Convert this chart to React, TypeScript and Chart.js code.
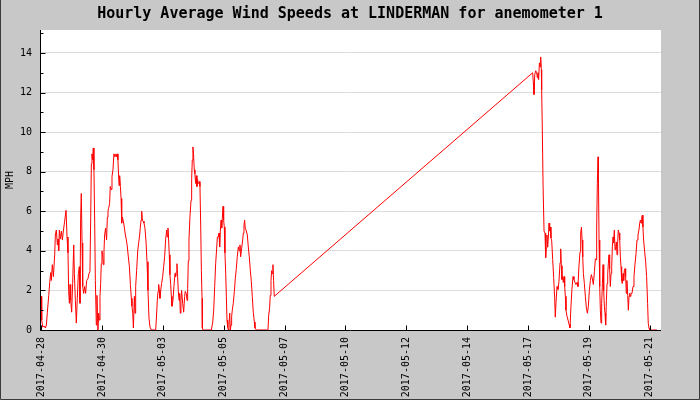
import React, { useEffect, useRef } from "react";
import { Chart, registerables } from "chart.js";

Chart.register(...registerables);

const chartTitle = "Hourly Average Wind Speeds at LINDERMAN for anemometer 1";
const yAxisTitle = "MPH";

const xTickLabels = [
  "2017-04-28", "2017-04-30", "2017-05-03", "2017-05-05", "2017-05-07", "2017-05-10",
  "2017-05-12", "2017-05-14", "2017-05-17", "2017-05-19", "2017-05-21",
];
// hours since the first reading at which each date tick sits
const xTickHours = [0, 56.3, 112.6, 168.9, 225.2, 281.5, 337.8, 394.1, 450.4, 506.7, 563.0];

const yMajorTicks = [0, 2, 4, 6, 8, 10, 12, 14];
const yMinorTicks = [1, 3, 5, 7, 9, 11, 13, 15];

// [hours since first reading, wind speed in MPH]
const readings: [number, number][] = [
  [0.3, 1.7], [0.6, 0.5], [1.5, 0.15], [2.7, 0.2], [4.0, 0.1], [4.9, 0.25], [5.8, 0.9],
  [7.1, 1.75], [8.0, 2.4], [8.9, 2.9], [9.5, 2.5], [10.4, 3.3], [11.4, 2.7], [12.6, 3.8],
  [13.2, 4.8], [14.1, 5.05], [15.1, 4.3], [15.7, 4.6], [16.3, 4.0], [16.9, 5.05], [17.8, 4.6],
  [18.8, 5.0], [19.7, 4.55], [20.6, 5.0], [21.8, 5.5], [23.1, 6.05], [24.0, 4.7], [24.9, 3.9],
  [25.5, 2.0], [26.2, 1.35], [26.8, 2.3], [27.4, 1.5], [28.3, 0.9], [29.2, 2.35], [30.2, 4.3],
  [30.8, 2.85], [31.7, 1.5], [32.6, 0.35], [33.5, 1.6], [34.5, 2.85], [35.4, 3.2], [36.0, 1.35],
  [36.6, 5.65], [37.2, 6.9], [37.9, 4.4], [38.5, 2.2], [39.4, 1.85], [40.3, 2.2], [41.2, 1.85],
  [42.2, 2.5], [43.4, 2.6], [44.3, 2.85], [45.2, 2.95], [45.9, 5.7], [46.5, 8.4], [47.1, 8.9],
  [47.7, 8.6], [48.3, 9.2], [48.9, 8.1], [49.6, 5.4], [50.2, 2.5], [51.1, 0.25], [51.7, 1.75],
  [52.6, 0], [53.3, 0.85], [53.9, 0.5], [54.5, 1.7], [55.1, 2.35], [55.7, 3.35], [56.3, 4.0],
  [57.0, 3.8], [57.6, 3.3], [58.2, 4.0], [58.8, 4.8], [59.7, 5.15], [60.6, 4.55], [61.3, 5.7],
  [61.9, 6.0], [62.5, 6.15], [63.4, 6.4], [64.0, 7.25], [64.7, 7.1], [65.6, 7.75], [66.5, 8.1],
  [67.4, 8.9], [68.3, 8.75], [69.3, 8.9], [69.9, 8.75], [70.5, 8.9], [71.1, 8.6],
  [72.1, 7.3], [72.7, 7.8], [73.4, 7.25], [74.0, 6.65], [74.6, 5.4], [75.2, 5.7], [76.1, 5.5],
  [77.1, 5.15], [78.0, 4.8], [78.9, 4.55], [79.8, 4.2], [80.7, 3.7], [81.7, 3.2], [82.6, 2.3],
  [83.5, 1.6], [84.1, 1.2], [84.8, 0.85], [85.4, 0.1], [86.3, 1.7], [86.9, 0.85], [87.5, 2.2],
  [88.4, 3.0], [89.4, 4.0], [90.3, 4.4], [91.2, 4.8], [91.8, 5.2], [92.5, 5.55], [93.1, 6.0],
  [93.7, 5.55], [94.3, 5.5], [95.2, 5.4], [96.1, 5.15], [97.1, 4.45], [98.0, 3.45], [98.9, 2.0],
  [99.8, 0.6], [100.8, 0.15], [102.0, 0], [106.0, 0], [106.6, 0.5], [107.5, 1.5], [108.2, 1.95],
  [108.8, 2.3], [109.4, 2.0], [110.0, 1.6], [110.6, 1.95], [111.5, 2.35], [112.5, 2.7], [113.4, 3.2],
  [114.3, 3.7], [115.2, 4.55], [116.2, 5.05], [116.8, 4.7], [117.4, 5.15], [118.0, 4.55], [118.6, 3.8],
  [119.2, 2.8], [119.9, 2.3], [120.5, 1.7], [121.1, 1.2], [122.0, 1.5], [122.9, 2.2], [123.9, 2.85],
  [124.5, 2.7], [125.1, 2.95], [125.7, 3.35], [126.3, 2.7], [126.9, 2.0], [127.6, 1.5], [128.2, 1.85],
  [128.8, 0.85], [129.4, 1.5], [130.0, 2.0], [131.0, 1.35], [131.9, 0.9], [132.8, 1.7], [133.4, 1.95],
  [134.3, 1.85], [135.0, 1.5], [135.6, 2.1], [136.2, 3.5], [136.8, 4.55], [137.7, 5.7], [138.7, 6.55],
  [139.3, 7.65], [139.9, 8.6], [140.5, 9.25], [141.1, 8.85], [141.7, 8.1], [142.3, 7.9], [143.0, 7.4],
  [143.6, 7.8], [144.2, 7.25], [144.8, 7.6], [145.4, 7.4], [146.4, 7.5],
  [147.0, 7.25], [147.7, 5.15], [148.3, 3.0], [148.9, 1.6], [149.2, 0.1], [149.8, 0], [157.5, 0],
  [158.8, 0.4], [159.7, 1.0], [160.6, 2.2], [161.5, 3.35], [162.4, 4.1], [163.1, 4.7], [164.0, 4.7],
  [164.6, 4.9], [165.2, 4.2], [165.8, 5.0], [166.5, 5.55], [167.1, 5.15], [167.7, 5.65], [168.3, 6.25],
  [168.9, 5.55], [169.5, 5.2], [170.1, 3.9], [170.8, 2.85], [171.4, 1.7], [172.0, 0.5], [172.6, 0.15],
  [173.2, 0], [173.8, 0.25], [174.5, 0.85], [175.1, 0], [175.7, 0.25], [176.3, 0.7], [176.9, 1.0],
  [177.8, 1.35], [178.8, 1.95], [179.7, 2.6], [180.6, 3.1], [181.5, 3.7], [182.5, 4.2], [183.4, 4.0],
  [184.0, 4.3], [184.6, 3.7], [185.5, 4.1], [186.5, 4.55], [187.1, 4.9], [187.7, 5.3], [188.3, 5.55],
  [188.9, 5.15], [189.9, 5.0], [190.8, 4.8], [191.7, 4.2], [192.6, 3.7], [193.6, 3.0], [194.5, 2.45],
  [195.4, 1.7], [196.3, 0.9], [197.3, 0.4], [197.9, 0.1], [199.1, 0], [209.9, 0], [210.5, 0.7],
  [211.4, 1.1], [212.0, 1.75], [212.7, 2.5], [213.3, 3.0], [213.9, 2.85], [214.5, 3.3], [215.1, 2.5],
  [215.7, 1.7],
  [454.8, 13.0], [455.4, 12.5], [456.0, 11.9], [456.7, 12.9], [457.6, 13.1], [458.5, 13.0],
  [459.1, 12.75], [459.7, 13.0], [460.3, 12.65], [461.0, 13.5], [461.6, 13.3], [462.2, 13.8],
  [462.8, 13.15], [463.1, 12.15], [463.7, 10.1], [464.4, 7.3], [465.3, 5.0], [466.2, 4.9],
  [466.8, 3.65], [467.4, 4.15], [468.0, 4.8], [468.7, 4.2], [469.3, 4.7], [469.9, 5.4], [470.5, 5.0],
  [471.1, 5.2], [471.7, 4.65], [472.4, 4.5], [473.3, 3.55], [474.2, 2.65], [475.1, 1.65], [475.7, 0.65],
  [476.4, 1.4], [477.3, 2.2], [478.2, 2.05], [479.1, 2.45], [480.1, 3.4], [480.7, 4.1], [481.3, 3.25],
  [481.9, 2.55], [482.5, 2.7], [483.1, 2.4], [483.8, 2.7], [484.4, 2.2], [485.0, 1.7], [485.6, 1.0],
  [486.5, 0.7], [487.5, 0.5], [488.4, 0.3], [489.3, 0.1], [490.2, 1.2], [491.1, 2.05], [492.1, 2.7],
  [493.0, 2.55], [493.9, 2.4], [494.8, 2.3], [495.8, 2.4], [496.7, 2.2], [497.6, 3.25],
  [498.6, 3.95], [499.2, 4.9], [499.9, 5.2], [500.5, 4.55], [501.1, 3.7], [501.7, 2.85], [502.6, 2.35],
  [503.5, 1.7], [504.5, 1.1], [505.4, 0.85], [506.3, 1.2], [507.2, 2.0], [508.2, 2.5], [509.1, 2.8],
  [510.0, 2.6], [510.9, 2.3], [511.9, 2.95], [512.8, 3.6], [513.4, 3.55], [514.0, 5.2], [514.6, 7.4],
  [515.3, 8.75], [515.6, 7.9], [516.2, 4.55], [516.8, 2.2], [517.4, 1.0], [518.0, 0.35], [518.6, 1.35],
  [519.3, 2.35], [519.9, 3.3], [520.5, 2.0], [521.1, 1.2], [521.7, 0.85], [522.3, 0.25], [523.0, 1.5],
  [523.6, 2.35], [524.2, 2.85], [524.8, 3.35], [525.4, 3.8], [526.0, 3.1], [526.6, 2.2], [527.3, 2.85],
  [527.9, 3.2], [528.5, 4.2], [529.1, 4.7], [529.7, 4.4], [530.3, 5.05], [531.0, 4.05], [531.6, 4.2],
  [532.2, 4.45], [532.8, 3.8], [533.4, 4.4], [534.0, 5.05], [534.7, 4.9], [535.3, 4.55], [535.9, 3.7],
  [536.5, 3.2], [537.1, 2.5], [537.7, 2.35], [538.4, 2.85], [539.0, 2.5], [539.6, 3.0], [540.2, 3.1],
  [540.8, 2.7], [541.4, 1.85], [542.0, 2.5], [542.7, 1.75], [543.3, 1.0], [543.9, 1.7], [544.5, 1.85],
  [545.1, 1.7], [545.7, 1.85], [546.7, 1.85], [547.6, 2.2], [548.5, 2.7], [549.4, 3.3], [550.4, 3.85],
  [551.3, 4.55], [552.2, 4.8], [553.1, 5.05], [553.8, 5.4], [554.4, 5.55], [555.0, 5.4], [555.6, 5.65],
  [556.2, 5.8], [556.8, 5.2], [557.4, 4.55], [558.4, 3.95], [559.3, 3.45], [560.2, 2.7], [561.1, 1.35],
  [561.7, 0.35], [562.4, 0.1], [563.0, 0], [569.8, 0],
];

const FONT = "'DejaVu Sans Mono', monospace";

const framePlugin = {
  id: "jpFrame",
  beforeDraw(chart: any) {
    const { ctx, width, height, chartArea: a } = chart;
    ctx.save();
    ctx.fillStyle = "#c8c8c8";
    ctx.fillRect(0, 0, width, height);
    ctx.fillStyle = "#ffffff";
    ctx.fillRect(a.left, a.top, a.right - a.left, a.bottom - a.top);
    ctx.strokeStyle = "#3a3a3a";
    ctx.lineWidth = 1;
    ctx.beginPath();
    ctx.moveTo(0.5, 0);
    ctx.lineTo(0.5, height - 0.5);
    ctx.lineTo(width - 0.5, height - 0.5);
    ctx.lineTo(width - 0.5, 0);
    ctx.stroke();
    ctx.fillStyle = "#000000";
    ctx.font = `bold 15px ${FONT}`;
    ctx.textAlign = "center";
    ctx.textBaseline = "alphabetic";
    ctx.fillText(chartTitle, width / 2, 17.5);
    ctx.restore();
  },
  afterDatasetsDraw(chart: any) {
    const { ctx, chartArea: a, scales } = chart;
    const xs = scales.x;
    const ys = scales.y;
    const L = Math.round(a.left) + 0.5;
    const B = Math.round(a.bottom) + 0.5;
    ctx.save();
    ctx.strokeStyle = "#000000";
    ctx.lineWidth = 1;
    ctx.beginPath();
    ctx.moveTo(L, a.top);
    ctx.lineTo(L, B);
    ctx.lineTo(a.right, B);
    yMajorTicks.forEach((v) => {
      const py = Math.round(ys.getPixelForValue(v)) + 0.5;
      ctx.moveTo(L, py);
      ctx.lineTo(L + 5, py);
    });
    yMinorTicks.forEach((v) => {
      const py = Math.round(ys.getPixelForValue(v)) + 0.5;
      ctx.moveTo(L, py);
      ctx.lineTo(L + 3, py);
    });
    xTickHours.forEach((h) => {
      const px = Math.round(xs.getPixelForValue(h)) + 0.5;
      ctx.moveTo(px, B);
      ctx.lineTo(px, B - 5);
    });
    ctx.stroke();
    ctx.restore();
  },
};

export default function App() {
  const ref = useRef<HTMLCanvasElement>(null);
  useEffect(() => {
    document.body.style.margin = "0";
    const chart = new Chart(ref.current as HTMLCanvasElement, {
      type: "line",
      data: {
        datasets: [
          {
            data: readings.map(([h, v]) => ({ x: h, y: v })),
            borderColor: "#ff0000",
            borderWidth: 1,
            pointRadius: 0,
            tension: 0,
            fill: false,
          },
        ],
      },
      options: {
        responsive: false,
        animation: false,
        devicePixelRatio: 1,
        layout: { padding: { top: 30, right: 39, left: 0, bottom: 0 } },
        plugins: {
          legend: { display: false },
          title: { display: false },
          tooltip: { enabled: false },
        },
        scales: {
          x: {
            type: "linear",
            min: -1,
            max: 573.5,
            grid: { display: false, drawTicks: false },
            border: { display: false },
            afterBuildTicks: (s: any) => {
              s.ticks = xTickHours.map((v) => ({ value: v }));
            },
            afterFit: (s: any) => {
              s.height = 70;
            },
            ticks: {
              autoSkip: false,
              minRotation: 90,
              maxRotation: 90,
              padding: 7,
              color: "#000000",
              font: { family: FONT, size: 10 },
              callback: (_v: any, i: number) => xTickLabels[i],
            },
          },
          y: {
            type: "linear",
            min: 0,
            max: 15.16,
            grid: { color: "#dcdcdc", drawTicks: false },
            border: { display: false },
            afterBuildTicks: (s: any) => {
              s.ticks = yMajorTicks.map((v) => ({ value: v }));
            },
            afterFit: (s: any) => {
              s.width = 40;
            },
            ticks: {
              padding: 8,
              color: "#000000",
              font: { family: FONT, size: 10 },
            },
            title: {
              display: true,
              text: yAxisTitle,
              color: "#000000",
              font: { family: FONT, size: 10 },
              padding: { top: 4, bottom: 0 },
            },
          },
        },
      },
      plugins: [framePlugin],
    } as any);
    return () => chart.destroy();
  }, []);
  return (
    <div style={{ width: 700, height: 400 }}>
      <canvas ref={ref} width={700} height={400} style={{ display: "block" }} />
    </div>
  );
}
